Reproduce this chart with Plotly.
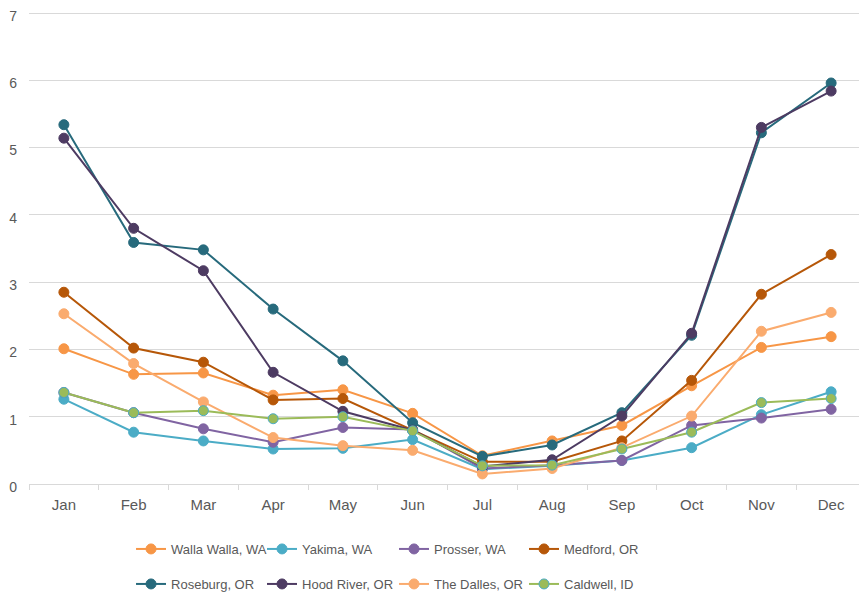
import plotly.graph_objects as go

months = ["Jan", "Feb", "Mar", "Apr", "May", "Jun", "Jul", "Aug", "Sep", "Oct", "Nov", "Dec"]

walla_walla = [2.01, 1.63, 1.65, 1.32, 1.40, 1.05, 0.42, 0.64, 0.87, 1.46, 2.03, 2.19]
yakima = [1.26, 0.77, 0.64, 0.52, 0.53, 0.66, 0.22, 0.27, 0.35, 0.54, 1.03, 1.37]
prosser = [1.36, 1.06, 0.82, 0.62, 0.84, 0.81, 0.23, 0.28, 0.35, 0.87, 0.98, 1.11]
medford = [2.85, 2.02, 1.81, 1.25, 1.27, 0.80, 0.33, 0.33, 0.64, 1.54, 2.82, 3.41]
roseburg = [5.34, 3.59, 3.48, 2.60, 1.83, 0.91, 0.41, 0.58, 1.06, 2.21, 5.22, 5.96]
hood_river = [5.14, 3.80, 3.17, 1.66, 1.08, 0.80, 0.26, 0.36, 1.01, 2.24, 5.30, 5.84]
the_dalles = [2.53, 1.79, 1.22, 0.69, 0.57, 0.50, 0.15, 0.23, 0.54, 1.01, 2.27, 2.55]
caldwell = [1.36, 1.06, 1.09, 0.97, 1.00, 0.79, 0.27, 0.28, 0.52, 0.77, 1.21, 1.27]

series = [
    ("Walla Walla, WA", walla_walla, "#F79646", "#F79646"),
    ("Yakima, WA", yakima, "#4BACC6", "#4BACC6"),
    ("Prosser, WA", prosser, "#8064A2", "#8064A2"),
    ("Medford, OR", medford, "#B65708", "#B65708"),
    ("Roseburg, OR", roseburg, "#276A7C", "#276A7C"),
    ("Hood River, OR", hood_river, "#4D3B62", "#4D3B62"),
    ("The Dalles, OR", the_dalles, "#FAAB6E", "#FAAB6E"),
    ("Caldwell, ID", caldwell, "#9BBB59", "#4BACC6"),
]

y_ticks = [0, 1, 2, 3, 4, 5, 6, 7]

# legend grid: 4 columns x 2 rows
legend_cols = [0.1219, 0.2784, 0.4361, 0.5914]
legend_rows = [-0.1374, -0.2114]

font_family = "Liberation Sans Narrow, Arial Narrow, Liberation Sans, Arial, sans-serif"

fig = go.Figure()
legend_layouts = {}
for i, (name, vals, color, outline) in enumerate(series):
    key = "legend" if i == 0 else f"legend{i + 1}"
    fig.add_trace(go.Scatter(
        x=months, y=vals, name=name, mode="lines+markers",
        line=dict(color=color, width=2),
        marker=dict(size=10, color=color, line=dict(color=outline, width=1)),
        legend=key,
    ))
    legend_layouts[key] = dict(
        orientation="h", xanchor="left", yanchor="middle",
        x=legend_cols[i % 4], y=legend_rows[i // 4],
        font=dict(size=13, color="#595959", family=font_family),
        bgcolor="rgba(0,0,0,0)", borderwidth=0,
    )

fig.update_layout(
    width=867, height=605,
    margin=dict(l=21, r=9, t=3, b=129, autoexpand=False),
    plot_bgcolor="white", paper_bgcolor="white",
    font=dict(family=font_family, color="#595959", size=13),
    showlegend=True,
    xaxis=dict(
        type="category", range=[-0.5, 11.5], tickson="boundaries",
        ticks="outside", ticklen=5, tickcolor="#D9D9D9",
        showline=True, linecolor="#D9D9D9", linewidth=1,
        showgrid=False, automargin=False, ticklabelstandoff=7,
        tickfont=dict(size=15, color="#595959"),
    ),
    yaxis=dict(
        range=[0, 7.03], tickvals=y_ticks,
        showgrid=True, gridcolor="#D9D9D9", gridwidth=1,
        zeroline=False, showline=False, ticks="", automargin=False,
        ticklabeloverflow="allow", ticklabelshift=3,
        ticklabelstandoff=11, tickfont=dict(size=14, color="#595959"),
    ),
    **legend_layouts,
)

fig.write_html("out.html")
